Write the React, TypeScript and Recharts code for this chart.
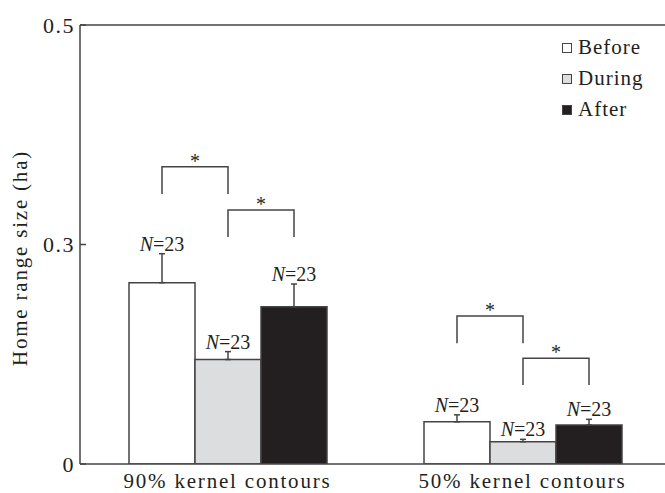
import React from 'react';
import { BarChart, Bar, XAxis, YAxis, ErrorBar, LabelList, ReferenceLine, Legend } from 'recharts';

const categories = ['90% kernel contours', '50% kernel contours'];
const beforeValues = [0.2065, 0.048];
const beforeErrors = [0.033, 0.008];
const duringValues = [0.119, 0.0254];
const duringErrors = [0.009, 0.0027];
const afterValues = [0.179, 0.0444];
const afterErrors = [0.026, 0.0065];
const sampleLabel = '=23';
const bracket1Top = [0.3386, 0.1686];
const bracket1Bottom = [0.3075, 0.1375];
const bracket2Top = [0.2893, 0.1204];
const bracket2Bottom = [0.2585, 0.09];
const yTickValues = [0, 0.25, 0.5];
const yTickLabels = ['0', '0.3', '0.5'];
const legendLabels = ['Before', 'During', 'After'];
const yAxisTitle = 'Home range size (ha)';

const FONT = '"Liberation Serif", "Times New Roman", serif';
const INK = '#231f20';
const LINE = '#444444';
const COLORS = ['#ffffff', '#dcdddf', '#231f20'];

const data = categories.map((cat, i) => ({
  cat,
  before: beforeValues[i],
  beforeErr: [0, beforeErrors[i]],
  during: duringValues[i],
  duringErr: [0, duringErrors[i]],
  after: afterValues[i],
  afterErr: [0, afterErrors[i]],
}));

const getBox = (props: any) => {
  const vb = props.viewBox && props.viewBox.width !== undefined ? props.viewBox : props;
  return { x: Number(vb.x), y: Number(vb.y), width: Number(vb.width), height: Number(vb.height) };
};

const makeNLabel = (errs: number[]) => (props: any) => {
  const { x, y, width, height } = getBox(props);
  const v = Number(props.value);
  const i = props.index;
  if (!v || i === undefined) return null;
  const ppu = Math.abs(height) / v;
  const errTop = y - errs[i] * ppu;
  return (
    <text x={x + width / 2} y={errTop - 3} textAnchor="middle" fontSize={20} fontFamily={FONT} fill={INK}>
      <tspan fontStyle="italic">N</tspan>
      <tspan>{sampleLabel}</tspan>
    </text>
  );
};

const makeBracket = (tops: number[], bottoms: number[]) => (props: any) => {
  const { x, y, width, height } = getBox(props);
  const v = Number(props.value);
  const i = props.index;
  if (!v || i === undefined) return null;
  const ppu = Math.abs(height) / v;
  const base = y + Math.abs(height);
  const yT = base - tops[i] * ppu;
  const yB = base - bottoms[i] * ppu;
  const x1 = x + width / 2;
  const x2 = x + width * 1.5;
  return (
    <g>
      <path d={`M${x1},${yB}V${yT}H${x2}V${yB}`} fill="none" stroke={LINE} strokeWidth={1.5} />
      <text x={(x1 + x2) / 2} y={yT + 1} textAnchor="middle" fontSize={20} fontFamily={FONT} fill={INK}>*</text>
    </g>
  );
};

const YTick = (props: any) => {
  const { x, y, payload } = props;
  const idx = yTickValues.indexOf(payload.value);
  return (
    <g>
      <line x1={x} x2={x + 6} y1={y} y2={y} stroke={LINE} strokeWidth={1.5} />
      <text x={x - 5} y={y} dy="0.35em" textAnchor="end" fontSize={22} letterSpacing={1.5} fontFamily={FONT} fill={INK}>
        {idx >= 0 ? yTickLabels[idx] : payload.value}
      </text>
    </g>
  );
};

const XTick = (props: any) => {
  const { x, y, payload } = props;
  return (
    <text x={x} y={y + 22} textAnchor="middle" fontSize={21} letterSpacing={1.8} fontFamily={FONT} fill={INK}>
      {payload.value}
    </text>
  );
};

const YTitle = (props: any) => {
  const vb = props.viewBox || { x: 0, y: 25, width: 80, height: 439 };
  const cx = 27;
  const cy = vb.y + vb.height / 2 + 13.5;
  return (
    <text x={cx} y={cy} transform={`rotate(-90, ${cx}, ${cy})`} textAnchor="middle" fontSize={21} letterSpacing={1.8} fontFamily={FONT} fill={INK}>
      {yAxisTitle}
    </text>
  );
};

const LegendContent = () => (
  <div style={{ fontFamily: FONT, color: INK }}>
    {legendLabels.map((l, i) => (
      <div key={l} style={{ display: 'flex', alignItems: 'center', height: 31, fontSize: 21, letterSpacing: 1 }}>
        <span style={{ display: 'inline-block', width: 8, height: 8, background: COLORS[i], border: `1.5px solid ${LINE}`, marginRight: 6 }} />
        <span>{l}</span>
      </div>
    ))}
  </div>
);

export default function App() {
  return (
    <div style={{ position: 'absolute', left: 0, top: 0, width: 665, height: 493, overflow: 'hidden', background: '#fff' }}>
      <BarChart width={670} height={493} data={data} margin={{ top: 25, right: 0, bottom: 0, left: 0 }} barGap={0} barSize={66}>
        <XAxis dataKey="cat" height={29} axisLine={{ stroke: LINE, strokeWidth: 1.5 }} tickLine={false} tickSize={0} tick={<XTick />} interval={0} />
        <YAxis width={80} domain={[0, 0.5]} ticks={yTickValues} allowDataOverflow type="number" axisLine={{ stroke: LINE, strokeWidth: 1.5 }} tickLine={false} tickSize={0} tickMargin={0} tick={<YTick />} label={<YTitle />} />
        <ReferenceLine y={0.5} stroke={LINE} strokeWidth={1.5} />
        <Legend layout="horizontal" verticalAlign="middle" align="center" wrapperStyle={{ left: 562, top: 32, width: 110, height: 100 }} content={<LegendContent />} />
        <Bar dataKey="before" fill={COLORS[0]} stroke={LINE} strokeWidth={1.5} isAnimationActive={false}>
          <ErrorBar dataKey="beforeErr" width={3} stroke={LINE} strokeWidth={1.5} direction="y" />
          <LabelList dataKey="before" content={makeNLabel(beforeErrors)} />
          <LabelList dataKey="before" content={makeBracket(bracket1Top, bracket1Bottom)} />
        </Bar>
        <Bar dataKey="during" fill={COLORS[1]} stroke={LINE} strokeWidth={1.5} isAnimationActive={false}>
          <ErrorBar dataKey="duringErr" width={3} stroke={LINE} strokeWidth={1.5} direction="y" />
          <LabelList dataKey="during" content={makeNLabel(duringErrors)} />
          <LabelList dataKey="during" content={makeBracket(bracket2Top, bracket2Bottom)} />
        </Bar>
        <Bar dataKey="after" fill={COLORS[2]} stroke={LINE} strokeWidth={1.5} isAnimationActive={false}>
          <ErrorBar dataKey="afterErr" width={3} stroke={LINE} strokeWidth={1.5} direction="y" />
          <LabelList dataKey="after" content={makeNLabel(afterErrors)} />
        </Bar>
      </BarChart>
    </div>
  );
}
